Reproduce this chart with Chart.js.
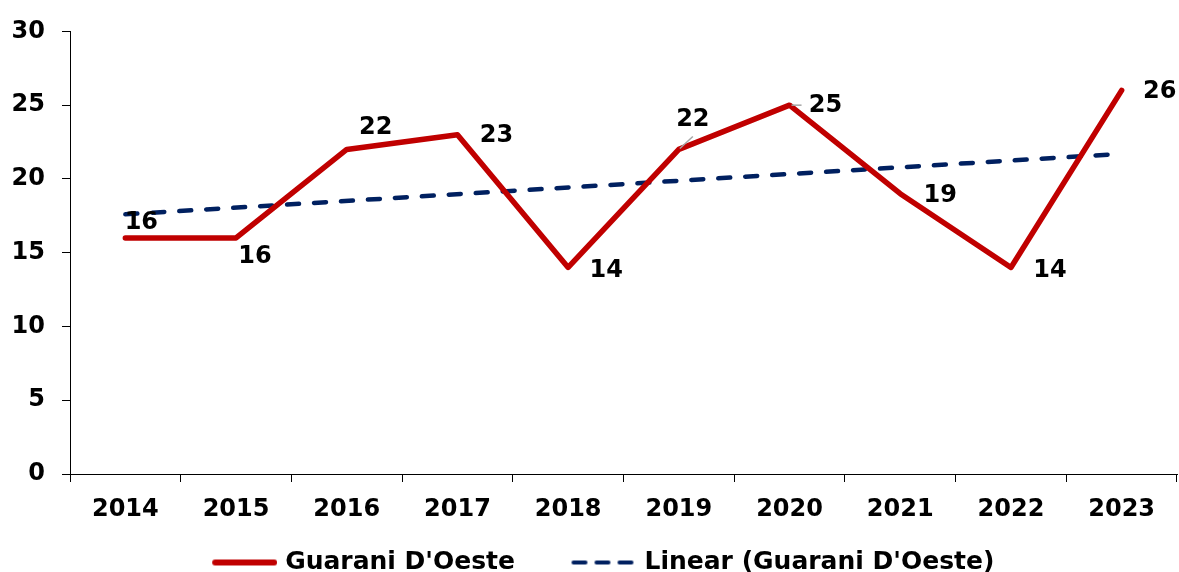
<!DOCTYPE html>
<html>
<head>
<meta charset="utf-8">
<script src="https://cdn.jsdelivr.net/npm/chart.js@4.4.1/dist/chart.umd.min.js"></script>
<style>
  html, body { margin: 0; padding: 0; background: #fff; }
</style>
</head>
<body>
<canvas id="chart" width="1179" height="572"></canvas>
<script>
const years = ['2014', '2015', '2016', '2017', '2018', '2019', '2020', '2021', '2022', '2023'];
const guarani = [16, 16, 22, 23, 14, 22, 25, 19, 14, 26];
// trend line: only its two ends, joined straight
const trend = [17.6, null, null, null, null, null, null, null, null, 21.7];
const yMin = 0;
const yMax = 30;
const yStep = 5;

const FONT = { family: '"DejaVu Sans", Verdana, sans-serif', size: 24, weight: 'bold' };
const LEGEND_FONT = { family: '"DejaVu Sans", Verdana, sans-serif', size: 25, weight: 'bold' };

// where each value label sits relative to its point (px)
const labelOffsets = [[16, -15], [19, 19], [29, -22], [39, 1], [38, 3], [14, -30], [36, 1], [40, 2], [39, 3], [38, 1]];
// small grey leader lines next to a couple of labels
const leaders = { 5: [1, -1, 14, -13], 6: [2, 0, 12, 0] };

// legend samples: a line on the right part of a small canvas (left part left blank as spacing)
function legendSwatch(color, width, dash) {
    const c = document.createElement('canvas');
    c.width = 99;
    c.height = 10;
    const g = c.getContext('2d');
    g.strokeStyle = color;
    g.lineWidth = width;
    g.lineCap = 'round';
    g.setLineDash(dash);
    g.beginPath();
    g.moveTo(34 + width / 2, 5);
    g.lineTo(99 - width / 2, 5);
    g.stroke();
    return c;
}

const valueLabels = {
    id: 'valueLabels',
    afterDatasetsDraw(chart) {
        const ctx = chart.ctx;
        const meta = chart.getDatasetMeta(0);
        ctx.save();
        ctx.strokeStyle = '#A6A6A6';
        ctx.lineWidth = 1.5;
        Object.keys(leaders).forEach(i => {
            const pt = meta.data[i];
            const l = leaders[i];
            ctx.beginPath();
            ctx.moveTo(pt.x + l[0], pt.y + l[1]);
            ctx.lineTo(pt.x + l[2], pt.y + l[3]);
            ctx.stroke();
        });
        ctx.font = 'bold 24px "DejaVu Sans", Verdana, sans-serif';
        ctx.fillStyle = '#000';
        ctx.textAlign = 'center';
        ctx.textBaseline = 'middle';
        meta.data.forEach((pt, i) => {
            const [dx, dy] = labelOffsets[i];
            ctx.fillText(String(guarani[i]), pt.x + dx, pt.y + dy);
        });
        ctx.restore();
    }
};

new Chart(document.getElementById('chart').getContext('2d'), {
    type: 'line',
    data: {
        labels: years,
        datasets: [{
            label: "Guarani D'Oeste",
            data: guarani,
            borderColor: '#C00000',
            backgroundColor: '#C00000',
            borderWidth: 5.5,
            borderCapStyle: 'round',
            borderJoinStyle: 'round',
            pointRadius: 0,
            pointStyle: legendSwatch('#C00000', 6, []),
            tension: 0
        }, {
            label: "Linear (Guarani D'Oeste)",
            data: trend,
            borderColor: '#002060',
            backgroundColor: '#002060',
            borderWidth: 4.5,
            borderDash: [12, 15],
            borderCapStyle: 'round',
            pointRadius: 0,
            pointStyle: legendSwatch('#002060', 4, [12, 11]),
            spanGaps: true,
            tension: 0
        }]
    },
    options: {
        responsive: false,
        animation: false,
        devicePixelRatio: 1,
        layout: { padding: { top: 27, right: 2, left: 0, bottom: 0 } },
        plugins: {
            tooltip: { enabled: false },
            legend: {
                display: true,
                position: 'bottom',
                maxHeight: 49,
                labels: {
                    usePointStyle: true,
                    pointStyleWidth: 90,
                    padding: 27,
                    color: '#000',
                    font: LEGEND_FONT
                }
            }
        },
        scales: {
            x: {
                type: 'category',
                offset: true,
                grid: { display: true, drawOnChartArea: false, drawTicks: true, tickLength: 8, color: '#000', offset: true },
                border: { display: true, color: '#000', width: 1 },
                ticks: { color: '#000', font: FONT, padding: 13, maxRotation: 0, autoSkip: false },
                afterFit(scale) { scale.height = 49; }
            },
            y: {
                min: yMin,
                max: yMax,
                grid: { display: true, drawOnChartArea: false, drawTicks: true, tickLength: 8, color: '#000' },
                border: { display: true, color: '#000', width: 1 },
                ticks: { stepSize: yStep, color: '#000', font: FONT, padding: 17 },
                afterFit(scale) { scale.width = 70; }
            }
        }
    },
    plugins: [valueLabels]
});
</script>
</body>
</html>
